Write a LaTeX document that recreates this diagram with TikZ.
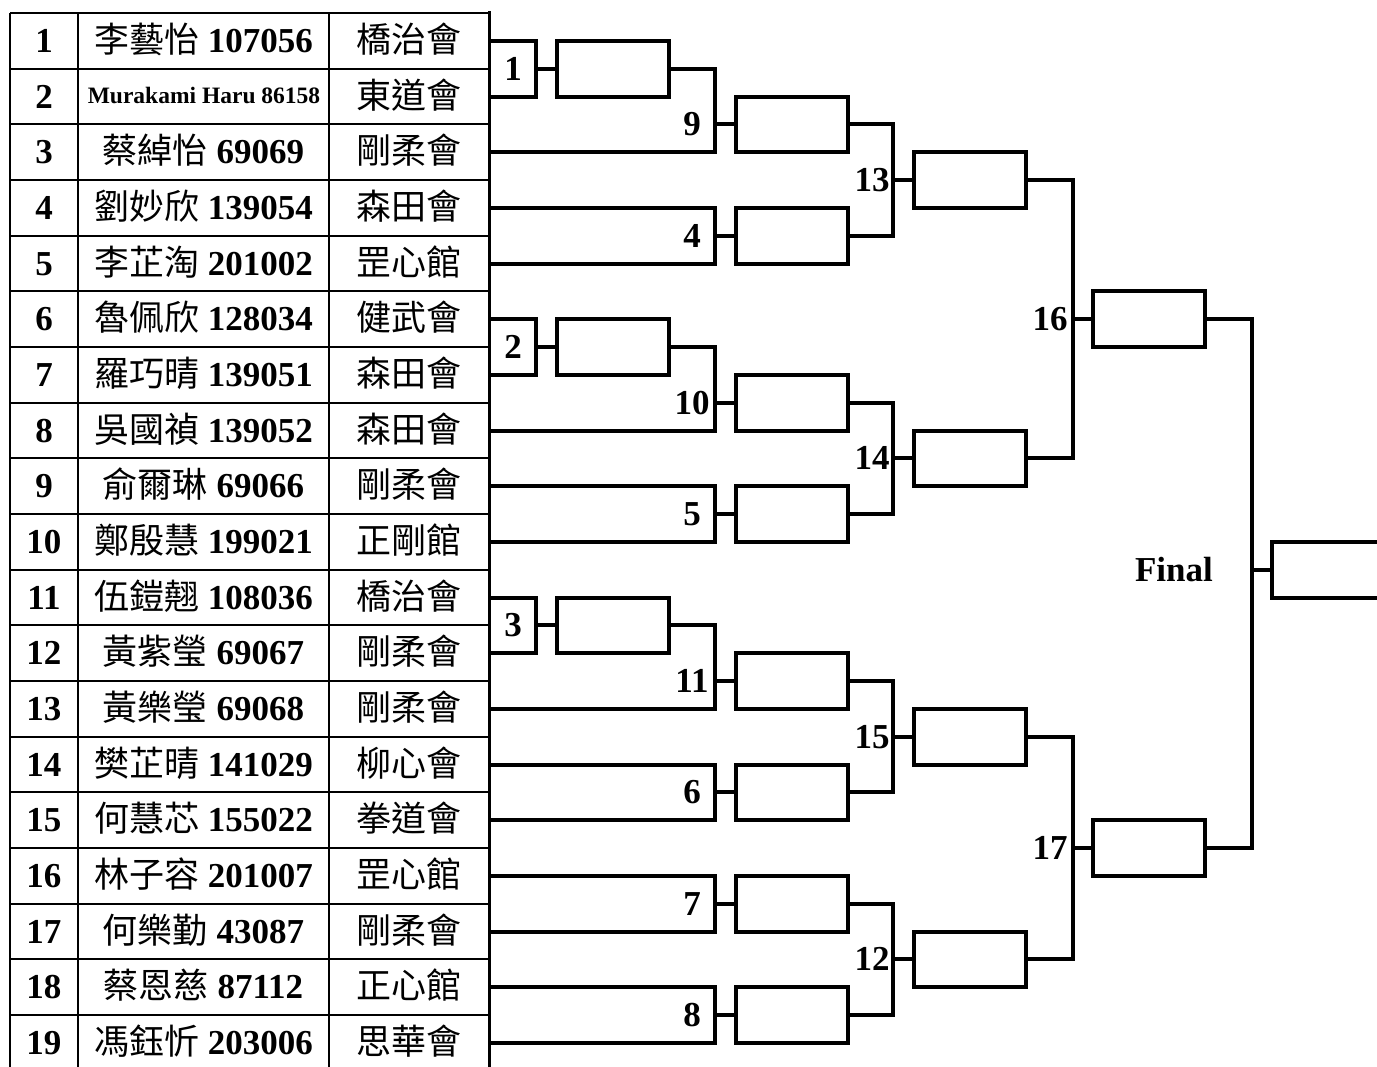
\documentclass[tikz,border=0pt]{standalone}
\usepackage{fontspec}
\setmainfont{Liberation Serif}
\newfontfamily\cjk{Noto Sans CJK TC}
\def\H{55.67}
\tikzset{
  bline/.style={line width=4pt, line join=miter},
  tline/.style={line width=2pt},
  wbox/.style={draw, line width=4pt, minimum width=112pt, minimum height=55.67pt, inner sep=0pt},
  lab/.style={font=\fontsize{35}{40}\selectfont\bfseries, inner sep=0pt, anchor=base},
  cell/.style={font=\fontsize{35}{40}\selectfont, inner sep=0pt, anchor=base},
}
\begin{document}
\begin{tikzpicture}[x=1pt,y=-1pt]
\useasboundingbox (0,0) rectangle (1377,1067);
\clip (0,0) rectangle (1377,1067);
\fill[white] (0,0) rectangle (1377,1067);
% ---------- table ----------
\draw[tline] (10,13) -- (489,13);
\draw[tline] (10,13) -- (10,1075);
\draw[tline] (78,13) -- (78,1075);
\draw[tline] (329,13) -- (329,1075);
\draw[line width=3pt] (489,11.5) -- (489,1075);
\foreach \i in {1,...,19}{
  \draw[tline] (10,{13+\i*\H}) -- (489,{13+\i*\H});
  \node[lab] (n\i) at (44,{13+(\i-0.5)*\H+11.5}) {\i};
  \coordinate (r\i) at (489,{13+(\i-0.5)*\H});
}
\foreach \i/\nm/\id/\cl in {1/李藝怡/107056/橋治會,3/蔡綽怡/69069/剛柔會,4/劉妙欣/139054/森田會,
  5/李芷淘/201002/罡心館,6/魯佩欣/128034/健武會,7/羅巧晴/139051/森田會,8/吳國禎/139052/森田會,
  9/俞爾琳/69066/剛柔會,10/鄭殷慧/199021/正剛館,11/伍鎧翹/108036/橋治會,12/黃紫瑩/69067/剛柔會,
  13/黃樂瑩/69068/剛柔會,14/樊芷晴/141029/柳心會,15/何慧芯/155022/拳道會,16/林子容/201007/罡心館,
  17/何樂勤/43087/剛柔會,18/蔡恩慈/87112/正心館,19/馮鈺忻/203006/思華會}{
  \node[cell] (p\i) at (203.5,{13+(\i-0.5)*\H+11.5}) {{\cjk\nm} \textbf{\id}};
  \node[cell] (c\i) at (409,{13+(\i-0.5)*\H+11.5}) {\cjk\cl};
}
\node[cell,font=\fontsize{23.5}{26}\selectfont\bfseries] (p2) at (204,{13+1.5*\H+7}) {Murakami Haru 86158};
\node[cell] (c2) at (409,{13+1.5*\H+11.5}) {\cjk 東道會};
% ---------- winner boxes ----------
\node[wbox] (w1) at (613,{13+1*\H}) {};
\node[wbox] (w2) at (613,{13+6*\H}) {};
\node[wbox] (w3) at (613,{13+11*\H}) {};
\node[wbox] (w9) at (792,{13+2*\H}) {};
\node[wbox] (w4) at (792,{13+4*\H}) {};
\node[wbox] (w10) at (792,{13+7*\H}) {};
\node[wbox] (w5) at (792,{13+9*\H}) {};
\node[wbox] (w11) at (792,{13+12*\H}) {};
\node[wbox] (w6) at (792,{13+14*\H}) {};
\node[wbox] (w7) at (792,{13+16*\H}) {};
\node[wbox] (w8) at (792,{13+18*\H}) {};
\node[wbox] (w13) at (970,{13+3*\H}) {};
\node[wbox] (w14) at (970,{13+8*\H}) {};
\node[wbox] (w15) at (970,{13+13*\H}) {};
\node[wbox] (w12) at (970,{13+17*\H}) {};
\node[wbox] (w16) at (1149,{13+5.5*\H}) {};
\node[wbox] (w17) at (1149,{13+15*\H}) {};
\node[wbox] (wF) at (1328,{13+10*\H}) {};
% ---------- junction points ----------
\coordinate (m1) at (536,{13+1*\H});
\coordinate (m2) at (536,{13+6*\H});
\coordinate (m3) at (536,{13+11*\H});
\coordinate (m9) at (715,{13+2*\H});
\coordinate (m4) at (715,{13+4*\H});
\coordinate (m10) at (715,{13+7*\H});
\coordinate (m5) at (715,{13+9*\H});
\coordinate (m11) at (715,{13+12*\H});
\coordinate (m6) at (715,{13+14*\H});
\coordinate (m7) at (715,{13+16*\H});
\coordinate (m8) at (715,{13+18*\H});
\coordinate (m13) at (893,{13+3*\H});
\coordinate (m14) at (893,{13+8*\H});
\coordinate (m15) at (893,{13+13*\H});
\coordinate (m12) at (893,{13+17*\H});
\coordinate (m16) at (1073,{13+5.5*\H});
\coordinate (m17) at (1073,{13+15*\H});
\coordinate (mF) at (1252,{13+10*\H});
% ---------- brackets ----------
\draw[bline] (r1) -| (m1) |- (r2);
\draw[bline] (r6) -| (m2) |- (r7);
\draw[bline] (r11) -| (m3) |- (r12);
\draw[bline] (w1.east) -| (m9) |- (r3);
\draw[bline] (r4) -| (m4) |- (r5);
\draw[bline] (w2.east) -| (m10) |- (r8);
\draw[bline] (r9) -| (m5) |- (r10);
\draw[bline] (w3.east) -| (m11) |- (r13);
\draw[bline] (r14) -| (m6) |- (r15);
\draw[bline] (r16) -| (m7) |- (r17);
\draw[bline] (r18) -| (m8) |- (r19);
\draw[bline] (w9.east) -| (m13) |- (w4.east);
\draw[bline] (w10.east) -| (m14) |- (w5.east);
\draw[bline] (w11.east) -| (m15) |- (w6.east);
\draw[bline] (w7.east) -| (m12) |- (w8.east);
\draw[bline] (w13.east) -| (m16) |- (w14.east);
\draw[bline] (w15.east) -| (m17) |- (w12.east);
\draw[bline] (w16.east) -| (mF) |- (w17.east);
\foreach \k in {1,2,3,9,4,10,5,11,6,7,8,13,14,15,12,16,17,F}{
  \draw[bline] (m\k) -- (w\k.west);
}
% ---------- match labels ----------
\foreach \k/\y in {1/1,2/6,3/11}{
  \node[lab] (l\k) at (513,{13+\y*\H+11.5}) {\k};
}
\foreach \k/\y in {9/2,4/4,10/7,5/9,11/12,6/14,7/16,8/18}{
  \node[lab] (l\k) at (692,{13+\y*\H+11.5}) {\k};
}
\foreach \k/\y in {13/3,14/8,15/13,12/17}{
  \node[lab] (l\k) at (872,{13+\y*\H+11.5}) {\k};
}
\node[lab] (l16) at (1050,{13+5.5*\H+11.5}) {16};
\node[lab] (l17) at (1050,{13+15*\H+11.5}) {17};
\node[lab] (lF) at (1174,{13+10*\H+11.5}) {Final};
\end{tikzpicture}
\end{document}
